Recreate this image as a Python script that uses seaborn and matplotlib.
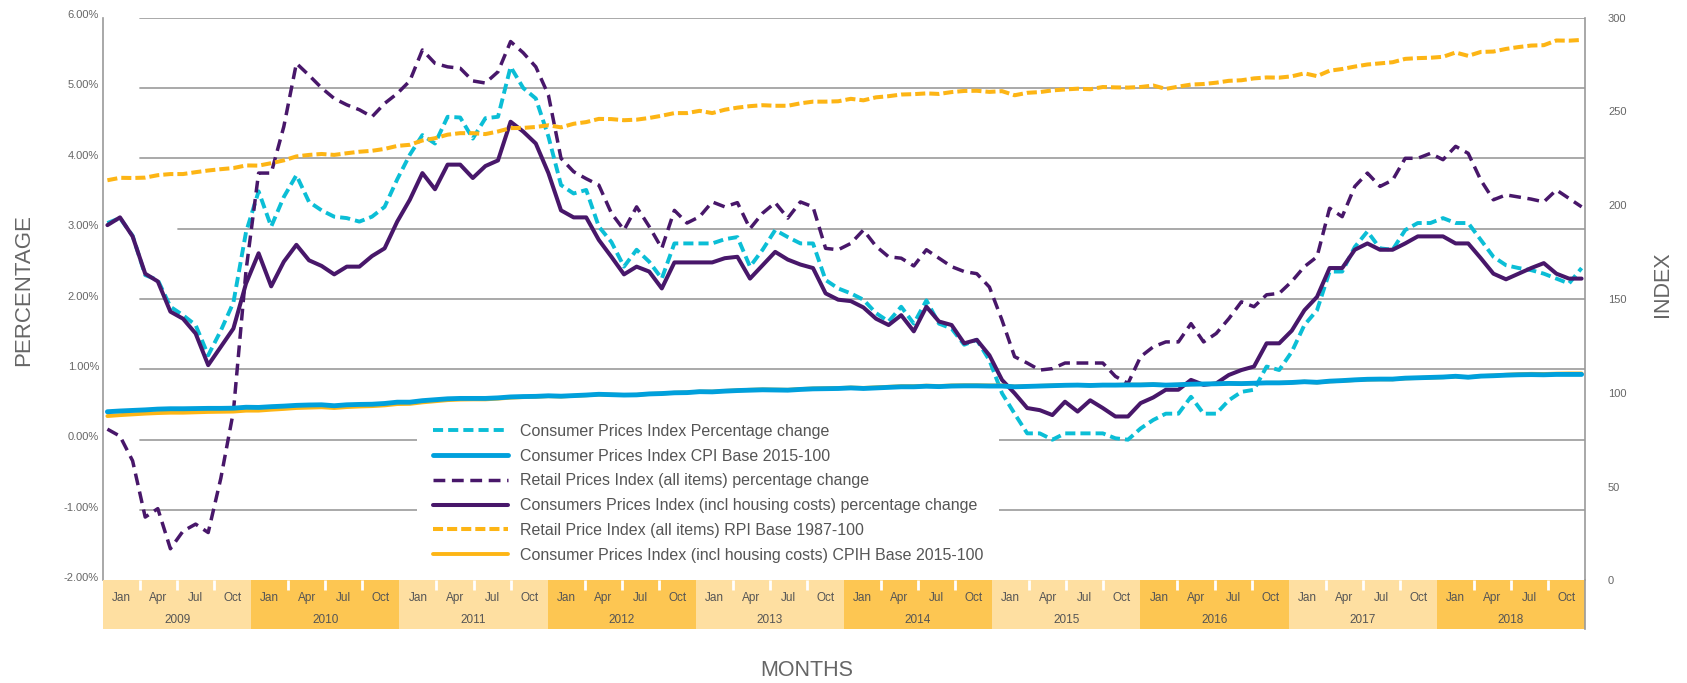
import matplotlib
matplotlib.use('Agg')
import matplotlib.pyplot as plt
import matplotlib.transforms as mtransforms
import seaborn as sns
import numpy as np
import pandas as pd

# --- data (Jan 2009 .. Oct 2018, monthly) ---
years = [2009, 2010, 2011, 2012, 2013, 2014, 2015, 2016, 2017, 2018]
quarter_labels = ['Jan', 'Apr', 'Jul', 'Oct']

cpi_pct = [
    3.08, 3.15, 2.90, 2.34, 2.27, 1.89, 1.77, 1.63, 1.20, 1.55, 1.95, 2.95,
    3.53, 3.03, 3.45, 3.76, 3.38, 3.26, 3.17, 3.15, 3.10, 3.17, 3.31, 3.70,
    4.05, 4.33, 4.21, 4.59, 4.58, 4.28, 4.57, 4.59, 5.30, 5.00, 4.85, 4.31,
    3.62, 3.50, 3.55, 3.03, 2.81, 2.46, 2.70, 2.53, 2.29, 2.79, 2.79, 2.79,
    2.79, 2.85, 2.88, 2.46, 2.70, 2.98, 2.88, 2.79, 2.79, 2.27, 2.15, 2.08,
    1.99, 1.80, 1.68, 1.89, 1.65, 1.98, 1.65, 1.58, 1.35, 1.42, 1.13, 0.66,
    0.37, 0.09, 0.09, 0.00, 0.09, 0.09, 0.09, 0.09, 0.02, 0.00, 0.16, 0.28,
    0.37, 0.37, 0.61, 0.37, 0.37, 0.56, 0.68, 0.71, 1.04, 0.99, 1.25, 1.63,
    1.84, 2.39, 2.39, 2.74, 2.96, 2.72, 2.70, 2.98, 3.08, 3.08, 3.15, 3.08,
    3.08, 2.84, 2.60, 2.48, 2.44, 2.41, 2.36, 2.29, 2.22, 2.44,
]
cpih_pct = [
    3.05, 3.16, 2.89, 2.36, 2.25, 1.82, 1.72, 1.51, 1.06, 1.32, 1.58, 2.22,
    2.65, 2.18, 2.53, 2.77, 2.55, 2.47, 2.35, 2.46, 2.46, 2.61, 2.72, 3.10,
    3.41, 3.79, 3.56, 3.91, 3.91, 3.72, 3.89, 3.97, 4.52, 4.38, 4.21, 3.79,
    3.26, 3.16, 3.16, 2.84, 2.60, 2.35, 2.46, 2.39, 2.15, 2.52, 2.52, 2.52,
    2.52, 2.58, 2.60, 2.29, 2.48, 2.67, 2.56, 2.49, 2.44, 2.08, 1.99, 1.97,
    1.88, 1.72, 1.63, 1.77, 1.54, 1.89, 1.68, 1.63, 1.37, 1.42, 1.20, 0.85,
    0.66, 0.45, 0.42, 0.35, 0.54, 0.40, 0.56, 0.45, 0.33, 0.33, 0.52, 0.60,
    0.71, 0.71, 0.85, 0.78, 0.80, 0.92, 0.99, 1.04, 1.37, 1.37, 1.55, 1.84,
    2.03, 2.44, 2.44, 2.70, 2.79, 2.70, 2.70, 2.79, 2.89, 2.89, 2.89, 2.79,
    2.79, 2.58, 2.36, 2.28, 2.36, 2.44, 2.51, 2.36, 2.29, 2.29,
]
rpi_pct = [
    0.15, 0.05, -0.30, -1.10, -0.98, -1.55, -1.30, -1.20, -1.32, -0.55, 0.40, 2.40,
    3.79, 3.79, 4.45, 5.35, 5.18, 5.00, 4.85, 4.76, 4.69, 4.59, 4.78, 4.92,
    5.10, 5.54, 5.35, 5.30, 5.28, 5.10, 5.07, 5.23, 5.66, 5.50, 5.30, 4.90,
    4.00, 3.81, 3.71, 3.62, 3.22, 2.98, 3.31, 3.03, 2.72, 3.26, 3.08, 3.17,
    3.38, 3.31, 3.37, 3.00, 3.22, 3.37, 3.15, 3.38, 3.31, 2.72, 2.70, 2.79,
    2.98, 2.75, 2.60, 2.58, 2.47, 2.70, 2.58, 2.46, 2.39, 2.36, 2.17, 1.70,
    1.18, 1.09, 0.99, 1.01, 1.09, 1.09, 1.09, 1.09, 0.90, 0.80, 1.18, 1.32,
    1.39, 1.39, 1.65, 1.39, 1.51, 1.72, 1.96, 1.89, 2.06, 2.08, 2.25, 2.46,
    2.60, 3.29, 3.17, 3.60, 3.79, 3.60, 3.69, 4.00, 4.00, 4.07, 3.98, 4.17,
    4.07, 3.69, 3.41, 3.48, 3.45, 3.42, 3.38, 3.55, 3.43, 3.31,
]
cpi_index = [
    89.9, 90.3, 90.6, 90.9, 91.3, 91.5, 91.5, 91.6, 91.7, 91.7, 91.8, 92.3,
    92.2, 92.6, 92.9, 93.3, 93.5, 93.6, 93.1, 93.6, 93.8, 93.9, 94.3, 95.0,
    95.0, 95.8, 96.3, 96.8, 97.0, 97.0, 97.0, 97.3, 97.8, 98.0, 98.1, 98.4,
    98.2, 98.5, 98.8, 99.2, 99.0, 98.8, 98.9, 99.4, 99.6, 100.0, 100.1, 100.6,
    100.5, 100.9, 101.2, 101.4, 101.6, 101.5, 101.4, 101.8, 102.1, 102.2, 102.3, 102.6,
    102.3, 102.6, 102.9, 103.2, 103.2, 103.5, 103.3, 103.6, 103.7, 103.7, 103.6, 103.6,
    103.2, 103.4, 103.6, 103.8, 104.0, 104.1, 103.9, 104.1, 104.1, 104.2, 104.2, 104.4,
    104.1, 104.3, 104.6, 104.7, 104.8, 105.0, 104.9, 105.1, 105.3, 105.3, 105.5, 105.9,
    105.6, 106.2, 106.5, 106.9, 107.2, 107.3, 107.3, 107.8, 108.0, 108.2, 108.4, 108.8,
    108.3, 108.9, 109.1, 109.4, 109.6, 109.7, 109.6, 109.8, 109.8, 109.8,
]
rpi_index = [
    213.3, 214.6, 214.5, 214.7, 216.0, 216.6, 216.6, 217.6, 218.5, 219.2, 219.8, 221.2,
    221.1, 222.4, 223.9, 226.0, 226.8, 227.3, 226.8, 227.7, 228.5, 229.0, 230.0, 231.6,
    232.2, 234.5, 235.7, 237.6, 238.4, 238.4, 237.9, 239.3, 241.1, 241.2, 241.7, 242.6,
    241.5, 243.4, 244.3, 246.0, 245.9, 245.3, 245.6, 246.5, 247.7, 249.1, 249.1, 250.3,
    249.1, 250.9, 252.0, 252.8, 253.3, 253.0, 253.0, 254.3, 255.2, 255.2, 255.4, 256.7,
    255.9, 257.5, 258.1, 259.0, 259.2, 259.6, 259.3, 260.3, 260.9, 261.0, 260.4, 260.8,
    258.6, 259.9, 260.3, 261.2, 261.7, 262.1, 261.8, 263.0, 262.8, 262.7, 263.0, 263.8,
    262.0, 263.2, 264.3, 264.6, 265.3, 266.3, 266.6, 267.6, 268.1, 268.0, 268.7, 270.3,
    268.8, 271.7, 272.6, 273.9, 275.0, 275.6, 276.2, 278.0, 278.4, 278.6, 279.1, 281.4,
    279.6, 281.7, 281.9, 283.3, 284.3, 285.1, 285.3, 287.8, 287.7, 288.1,
]
cpih_index = [
    87.6, 88.1, 88.5, 88.9, 89.2, 89.4, 89.4, 89.6, 89.8, 89.9, 90.0, 90.5,
    90.5, 91.0, 91.4, 91.9, 92.1, 92.3, 91.9, 92.4, 92.7, 92.9, 93.3, 94.0,
    94.1, 94.9, 95.5, 96.1, 96.4, 96.5, 96.5, 96.9, 97.4, 97.7, 97.9, 98.2,
    98.0, 98.4, 98.7, 99.1, 99.0, 98.8, 98.9, 99.4, 99.6, 100.0, 100.2, 100.6,
    100.6, 101.0, 101.3, 101.6, 101.8, 101.7, 101.6, 102.0, 102.3, 102.4, 102.5, 102.8,
    102.6, 102.9, 103.2, 103.5, 103.5, 103.8, 103.6, 103.9, 104.0, 104.0, 103.9, 103.9,
    103.3, 103.5, 103.7, 103.9, 104.1, 104.2, 104.0, 104.2, 104.2, 104.3, 104.3, 104.5,
    104.1, 104.3, 104.6, 104.7, 104.8, 105.0, 104.9, 105.1, 105.3, 105.3, 105.5, 105.9,
    105.5, 106.1, 106.4, 106.8, 107.1, 107.2, 107.2, 107.7, 107.9, 108.1, 108.3, 108.7,
    108.3, 108.9, 109.2, 109.6, 109.9, 110.1, 110.0, 110.2, 110.3, 110.3,
]

labels = [
    'Consumer Prices Index Percentage change',
    'Consumer Prices Index CPI Base 2015-100',
    'Retail Prices Index (all items) percentage change',
    'Consumers Prices Index (incl housing costs) percentage change',
    'Retail Price Index (all items) RPI Base 1987-100',
    'Consumer Prices Index (incl housing costs) CPIH Base 2015-100',
]

CYAN = '#0BBED6'
BLUE = '#00A0DC'
PURPLE = '#48176A'
YELLOW = '#FDB515'
LIGHT = '#FEDFA1'
DARK = '#FDC652'
GREY = '#666666'

df = pd.DataFrame({
    'month': np.arange(len(cpi_pct)),
    'cpi_pct': cpi_pct, 'cpih_pct': cpih_pct, 'rpi_pct': rpi_pct,
    'cpi_index': cpi_index, 'rpi_index': rpi_index, 'cpih_index': cpih_index,
})

sns.set_style('white')
plt.rcParams['font.family'] = ['Liberation Sans', 'DejaVu Sans']

W, H = 1687, 683
fig = plt.figure(figsize=(W / 100, H / 100), dpi=100)


def fx(px):
    return px / W


def fy(py):
    return 1 - py / H


x0, x1, ytop, ybot, yband = 103, 1585, 17.6, 580.4, 629.4
ax = fig.add_axes([fx(x0), fy(ybot), fx(x1) - fx(x0), fy(ytop) - fy(ybot)])
ax2 = ax.twinx()
band = fig.add_axes([fx(x0), fy(yband), fx(x1) - fx(x0), fy(ybot) - fy(yband)])

# gridlines (they start a little right of the axis)
for v in [6, 5, 4, 3, 2, 1, 0, -1]:
    ax.axhline(v, xmin=0.0506 if v == 3 else 0.025, color='#a3a3a3', lw=1.3, zorder=0)


def draw(axis, col, color, lw, dashes=None):
    sns.lineplot(data=df, x='month', y=col, ax=axis, color=color, linewidth=lw, legend=False)
    line = axis.lines[-1]
    if dashes:
        line.set_dashes(dashes)
    return line


h_cpi_pct = draw(ax, 'cpi_pct', CYAN, 2.8, (2.6, 1.3))
h_rpi_pct = draw(ax, 'rpi_pct', PURPLE, 2.5, (3.4, 1.9))
h_cpih_pct = draw(ax, 'cpih_pct', PURPLE, 2.9)
h_cpih_idx = draw(ax2, 'cpih_index', YELLOW, 2.8)
h_cpi_idx = draw(ax2, 'cpi_index', BLUE, 3.5)
h_rpi_idx = draw(ax2, 'rpi_index', YELLOW, 2.9, (2.5, 1.0))

xlim = ((x0 - 107.4) / 12.6, (x1 - 107.4) / 12.6)
ax.set_xlim(*xlim)
ax.set_ylim(-2, 6)
ax2.set_ylim(0, 300)

ax.set_yticks([-2, -1, 0, 1, 2, 3, 4, 5, 6])
ax.set_yticklabels([f'{v:.2f}%' for v in [-2, -1, 0, 1, 2, 3, 4, 5, 6]])
ax2.set_yticks([0, 50, 100, 150, 200, 250, 300])
ax.set_xticks([])
ax2.set_xticks([])
ax.set_xlabel('')
ax.set_ylabel('')
ax2.set_ylabel('')
ax.tick_params(axis='y', length=0, pad=2.9, labelsize=8, labelcolor=GREY)
ax2.tick_params(axis='y', length=0, pad=16.6, labelsize=8, labelcolor=GREY)
offset = mtransforms.ScaledTranslation(0, 3.5 / 100, fig.dpi_scale_trans)
for lbl in ax.get_yticklabels():
    lbl.set_transform(lbl.get_transform() + offset)

for s in ['top', 'bottom', 'right']:
    ax.spines[s].set_visible(False)
for s in ['top', 'bottom', 'left']:
    ax2.spines[s].set_visible(False)
ax.spines['left'].set_color('#9a9a9a')
ax.spines['left'].set_linewidth(1.2)
ax2.spines['right'].set_color('#9a9a9a')
ax2.spines['right'].set_linewidth(1.2)

# month / year band under the plot
band.set_xlim(0, 12 * len(years))
band.set_ylim(0, 1)
for k, yr in enumerate(years):
    band.axvspan(12 * k, 12 * k + 12, color=LIGHT if k % 2 == 0 else DARK, lw=0)
    band.text(12 * k + 6, 0.20, str(yr), ha='center', va='center', fontsize=8.5, color='#555555')
    for q, lab in enumerate(quarter_labels):
        band.text(12 * k + 3 * q + 1.5, 0.64, lab, ha='center', va='center',
                  fontsize=8.5, color='#555555')
    band.vlines([12 * k + 3, 12 * k + 6, 12 * k + 9], 0.8, 1.0, color='white', lw=2)
band.set_xticks([])
band.set_yticks([])
for s in ['top', 'bottom', 'left']:
    band.spines[s].set_visible(False)
band.spines['right'].set_color('#9a9a9a')
band.spines['right'].set_linewidth(1.2)

# legend
handles = [h_cpi_pct, h_cpi_idx, h_rpi_pct, h_cpih_pct, h_rpi_idx, h_cpih_idx]
leg = ax2.legend(handles, labels, loc='upper left', bbox_to_anchor=(fx(417), fy(408)),
                 bbox_transform=fig.transFigure, frameon=True, fancybox=False,
                 framealpha=1, facecolor='white', edgecolor='none', fontsize=11.5,
                 handlelength=4.7, handletextpad=0.75, labelspacing=0.61,
                 borderpad=1.0, borderaxespad=0)
for t in leg.get_texts():
    t.set_color('#555555')

fig.text(fx(23.6), fy(290), 'PERCENTAGE', rotation=90, ha='center', va='center',
         fontsize=16, color=GREY)
fig.text(fx(1662), fy(284), 'INDEX', rotation=90, ha='center', va='center',
         fontsize=15.5, color=GREY)
fig.text(fx(807), fy(671), 'MONTHS', ha='center', va='center', fontsize=15.5, color=GREY)

fig.savefig('out.png', dpi=100)
